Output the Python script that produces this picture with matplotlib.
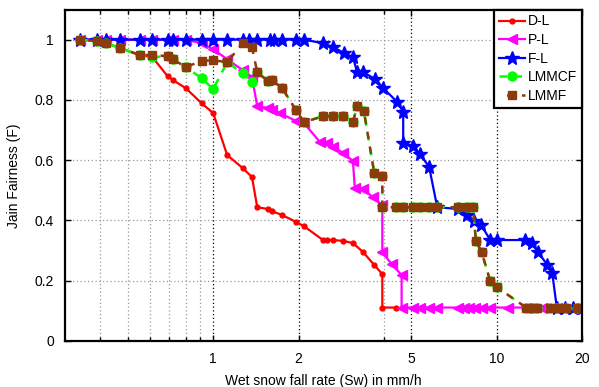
import matplotlib
matplotlib.use('Agg')
import matplotlib.pyplot as plt
from matplotlib.ticker import FixedLocator, FixedFormatter, NullFormatter

plt.rcParams['font.family'] = ['Liberation Sans', 'DejaVu Sans']
plt.rcParams['font.size'] = 10

# D-L
dl_x = [0.34, 0.39, 0.42, 0.47, 0.55, 0.61, 0.69, 0.72, 0.80, 0.91, 1.0, 1.12, 1.27, 1.37, 1.43,
        1.56, 1.61, 1.75, 1.96, 2.09, 2.44, 2.52, 2.65, 2.88, 3.11, 3.38, 3.70, 3.95, 3.95, 4.40]
dl_y = [1.0, 0.995, 0.988, 0.972, 0.949, 0.942, 0.879, 0.866, 0.839, 0.789, 0.756, 0.617, 0.574, 0.544, 0.444,
        0.438, 0.431, 0.418, 0.395, 0.381, 0.335, 0.335, 0.335, 0.332, 0.325, 0.295, 0.252, 0.222, 0.111, 0.111]

# P-L
pl_x = [0.34, 0.39, 0.42, 0.47, 0.55, 0.61, 0.69, 0.72, 0.80, 0.91, 1.0, 1.12, 1.27, 1.37, 1.43,
        1.56, 1.61, 1.72, 1.96, 2.09, 2.38, 2.52, 2.65, 2.88, 3.11, 3.16, 3.38, 3.65, 3.95, 3.95,
        4.26, 4.62, 4.62, 5.08, 5.37, 5.75, 6.15, 7.3, 7.7, 8.0, 8.4, 8.85, 9.5, 11.0, 12.7,
        14.5, 16.3, 18.6, 20.0]
pl_y = [1.0, 1.0, 1.0, 1.0, 1.0, 1.0, 1.0, 1.0, 1.0, 0.988, 0.968, 0.935, 0.899, 0.876, 0.779,
        0.773, 0.766, 0.756, 0.73, 0.723, 0.66, 0.657, 0.643, 0.624, 0.597, 0.507, 0.504, 0.478, 0.451, 0.295,
        0.255, 0.219, 0.111, 0.111, 0.111, 0.111, 0.111, 0.111, 0.111, 0.111, 0.111, 0.111, 0.111, 0.111, 0.111,
        0.111, 0.111, 0.111, 0.111]

# F-L
fl_x = [0.34, 0.39, 0.42, 0.47, 0.55, 0.61, 0.69, 0.72, 0.80, 0.91, 1.0, 1.12, 1.27, 1.34, 1.43,
        1.58, 1.64, 1.75, 1.96, 2.09, 2.44, 2.65, 2.90, 3.11, 3.22, 3.38, 3.73, 3.98, 4.46, 4.68,
        4.68, 5.08, 5.37, 5.78, 6.17, 7.31, 7.87, 8.33, 8.82, 9.49, 10.0, 12.6, 13.3, 14.0, 15.1,
        15.7, 16.3, 17.4, 18.6, 20.0]
fl_y = [1.0, 1.0, 1.0, 1.0, 1.0, 1.0, 1.0, 1.0, 1.0, 1.0, 1.0, 1.0, 1.0, 1.0, 1.0,
        1.0, 1.0, 1.0, 1.0, 1.0, 0.988, 0.975, 0.955, 0.942, 0.892, 0.892, 0.869, 0.839, 0.793, 0.760,
        0.657, 0.647, 0.620, 0.577, 0.444, 0.438, 0.418, 0.398, 0.385, 0.335, 0.335, 0.335, 0.325, 0.295, 0.252,
        0.226, 0.111, 0.111, 0.111, 0.111]

# LMMCF
lmmcf_x = [0.34, 0.39, 0.42, 0.47, 0.55, 0.61, 0.69, 0.72, 0.80, 0.91, 1.0, 1.12, 1.27, 1.37, 1.43,
           1.56, 1.61, 1.75, 1.96, 2.09, 2.44, 2.65, 2.88, 3.11, 3.22, 3.40, 3.70, 3.95, 3.95, 4.40,
           4.68, 5.08, 5.37, 5.75, 6.15, 7.3, 7.87, 8.25, 8.45, 8.85, 9.49, 10.0, 12.7, 13.3, 13.9,
           15.4, 16.3, 17.6, 19.2, 20.0]
lmmcf_y = [1.0, 0.995, 0.988, 0.972, 0.949, 0.942, 0.945, 0.935, 0.909, 0.872, 0.836, 0.925, 0.889, 0.859, 0.892,
           0.862, 0.866, 0.839, 0.766, 0.726, 0.746, 0.746, 0.746, 0.726, 0.779, 0.763, 0.557, 0.547, 0.444, 0.444,
           0.444, 0.444, 0.444, 0.444, 0.444, 0.444, 0.444, 0.444, 0.332, 0.295, 0.199, 0.179, 0.111, 0.111, 0.111,
           0.111, 0.111, 0.111, 0.111, 0.111]

# LMMF
lmmf_x = [0.34, 0.39, 0.42, 0.47, 0.55, 0.61, 0.69, 0.72, 0.80, 0.91, 1.0, 1.12, 1.27, 1.37, 1.43,
          1.56, 1.61, 1.75, 1.96, 2.09, 2.44, 2.65, 2.88, 3.11, 3.22, 3.40, 3.70, 3.95, 3.95, 4.40,
          4.68, 5.08, 5.37, 5.75, 6.15, 7.3, 7.87, 8.25, 8.45, 8.85, 9.49, 10.0, 12.7, 13.3, 13.9,
          15.4, 16.3, 17.6, 19.2, 20.0]
lmmf_y = [1.0, 0.995, 0.988, 0.972, 0.949, 0.949, 0.945, 0.935, 0.909, 0.929, 0.932, 0.925, 0.988, 0.975, 0.892,
          0.862, 0.866, 0.839, 0.766, 0.726, 0.746, 0.746, 0.746, 0.726, 0.779, 0.763, 0.557, 0.547, 0.444, 0.444,
          0.444, 0.444, 0.444, 0.444, 0.444, 0.444, 0.444, 0.444, 0.332, 0.295, 0.199, 0.179, 0.111, 0.111, 0.111,
          0.111, 0.111, 0.111, 0.111, 0.111]

x_ticks = [1, 2, 5, 10, 20]
x_tick_labels = ['1', '2', '5', '10', '20']
x_minor = [0.4, 0.5, 0.6, 0.7, 0.8, 0.9, 4]
y_ticks = [0, 0.2, 0.4, 0.6, 0.8, 1.0]
y_tick_labels = ['0', '0.2', '0.4', '0.6', '0.8', '1']

brown = (0.55, 0.23, 0.04)

fig = plt.figure(figsize=(5.99, 3.87), dpi=100)
ax = fig.add_axes([65 / 599, 46 / 387, 517 / 599, 331.5 / 387])

ax.plot(dl_x, dl_y, color='red', lw=1.6, marker='o', ms=3.5, label='D-L')
ax.plot(pl_x, pl_y, color='magenta', lw=1.6, marker='<', ms=7.5, label='P-L')
ax.plot(fl_x, fl_y, color='blue', lw=1.6, marker='*', ms=10, label='F-L')
# the two LMM curves overlap, so their dashes are offset to alternate green/brown
ax.plot(lmmcf_x, lmmcf_y, color=(0, 1, 0), lw=1.8, linestyle=(0, (3, 3)),
        marker='o', ms=6.5, label='LMMCF')
ax.plot(lmmf_x, lmmf_y, color=brown, lw=1.8, linestyle=(3, (3, 3)),
        marker='s', ms=6, mec=brown, label='LMMF')

ax.set_xscale('log')
ax.set_xlim(0.3, 20)
ax.set_ylim(0, 1.1)

ax.xaxis.set_major_locator(FixedLocator(x_ticks))
ax.xaxis.set_major_formatter(FixedFormatter(x_tick_labels))
ax.xaxis.set_minor_locator(FixedLocator(x_minor))
ax.xaxis.set_minor_formatter(NullFormatter())
ax.set_yticks(y_ticks)
ax.set_yticklabels(y_tick_labels)

ax.set_axisbelow(True)
ax.grid(True, which='major', axis='x', color='black', linestyle=(0, (1, 2)), lw=0.9)
ax.grid(True, which='minor', axis='x', color='0.6', linestyle=(0, (1, 2)), lw=0.9)
ax.grid(True, which='major', axis='y', color='0.6', linestyle=(0, (1, 2)), lw=0.9)

ax.tick_params(which='both', direction='in', top=True, right=True, width=1)
ax.tick_params(which='major', length=4, pad=8)
ax.tick_params(which='minor', length=3)
for sp in ax.spines.values():
    sp.set_linewidth(1.6)

ax.set_xlabel('Wet snow fall rate (Sw) in mm/h', labelpad=6)
ax.set_ylabel('Jain Fairness (F)', labelpad=10)

leg = ax.legend(loc='upper right', borderaxespad=0, fancybox=False, framealpha=1,
                edgecolor='black', handlelength=1.9, handletextpad=0.2,
                labelspacing=0.33, borderpad=0.35)
leg.get_frame().set_linewidth(1.6)

fig.savefig('out.png', dpi=100)
